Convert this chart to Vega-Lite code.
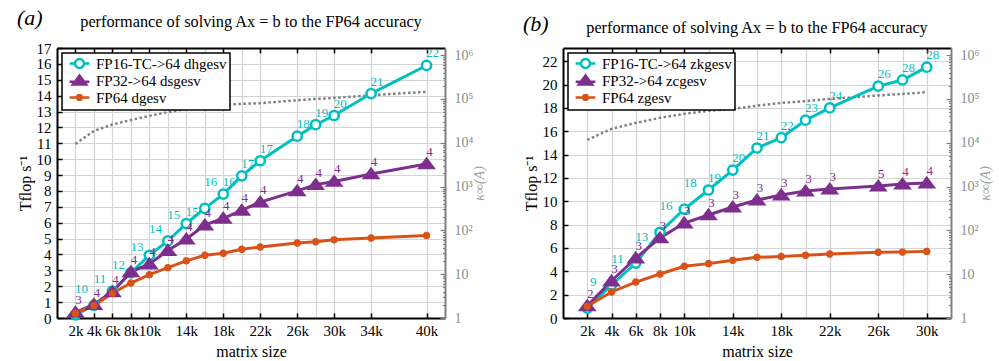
{
  "$schema": "https://vega.github.io/schema/vega-lite/v6.json",
  "padding": {"left": 17, "top": 6, "right": 2, "bottom": 0},
  "config": {
    "font": "Liberation Serif",
    "view": {"stroke": null},
    "text": {"font": "Liberation Serif"},
    "axis": {"labelFont": "Liberation Serif", "titleFont": "Liberation Serif", "labelFontSize": 15, "titleFontSize": 16, "titleFontWeight": "normal", "labelColor": "#000", "titleColor": "#000", "domainColor": "#000", "domainWidth": 2, "tickColor": "#000", "tickWidth": 1.5, "gridColor": "#d4d4d4", "gridWidth": 1.2, "labelOverlap": false, "labelFlush": false},
    "legend": {"labelFont": "Liberation Serif", "labelFontSize": 15, "labelColor": "#000", "strokeColor": "#000", "strokeWidth": 1.5, "fillColor": "#fff", "padding": 3, "symbolStrokeWidth": 2.5, "symbolSize": 80, "symbolOpacity": 1, "rowPadding": -5, "labelOffset": 9, "symbolOffset": 7, "orient": "top-left", "offset": 5, "cornerRadius": 0},
    "title": {"font": "Liberation Serif", "fontSize": 16.3, "fontWeight": "normal", "color": "#000"}
  },
  "datasets": {
    "pa": [
      {"n":2000,"s":"FP16-TC->64 dhgesv","t":0.2,"it":"10"},{"n":4000,"s":"FP16-TC->64 dhgesv","t":0.8,"it":"11"},{"n":6000,"s":"FP16-TC->64 dhgesv","t":1.7,"it":"12"},{"n":8000,"s":"FP16-TC->64 dhgesv","t":2.85,"it":"13"},{"n":10000,"s":"FP16-TC->64 dhgesv","t":3.95,"it":"14"},{"n":12000,"s":"FP16-TC->64 dhgesv","t":4.85,"it":"15"},{"n":14000,"s":"FP16-TC->64 dhgesv","t":5.95,"it":"15"},{"n":16000,"s":"FP16-TC->64 dhgesv","t":6.9,"it":"16"},{"n":18000,"s":"FP16-TC->64 dhgesv","t":7.8,"it":"16"},{"n":20000,"s":"FP16-TC->64 dhgesv","t":8.95,"it":"17"},{"n":22000,"s":"FP16-TC->64 dhgesv","t":9.9,"it":"17"},{"n":26000,"s":"FP16-TC->64 dhgesv","t":11.45,"it":"18"},{"n":28000,"s":"FP16-TC->64 dhgesv","t":12.17,"it":"19"},{"n":30000,"s":"FP16-TC->64 dhgesv","t":12.75,"it":"20"},{"n":34000,"s":"FP16-TC->64 dhgesv","t":14.13,"it":"21"},{"n":40000,"s":"FP16-TC->64 dhgesv","t":15.9,"it":"22"},
      {"n":2000,"s":"FP32->64 dsgesv","t":0.35,"it":"3"},{"n":4000,"s":"FP32->64 dsgesv","t":0.85,"it":"4"},{"n":6000,"s":"FP32->64 dsgesv","t":1.65,"it":"4"},{"n":8000,"s":"FP32->64 dsgesv","t":2.9,"it":"4"},{"n":10000,"s":"FP32->64 dsgesv","t":3.4,"it":"4"},{"n":12000,"s":"FP32->64 dsgesv","t":4.25,"it":"4"},{"n":14000,"s":"FP32->64 dsgesv","t":4.97,"it":"4"},{"n":16000,"s":"FP32->64 dsgesv","t":5.85,"it":"4"},{"n":18000,"s":"FP32->64 dsgesv","t":6.28,"it":"4"},{"n":20000,"s":"FP32->64 dsgesv","t":6.78,"it":"4"},{"n":22000,"s":"FP32->64 dsgesv","t":7.3,"it":"4"},{"n":26000,"s":"FP32->64 dsgesv","t":8.0,"it":"4"},{"n":28000,"s":"FP32->64 dsgesv","t":8.4,"it":"4"},{"n":30000,"s":"FP32->64 dsgesv","t":8.6,"it":"4"},{"n":34000,"s":"FP32->64 dsgesv","t":9.07,"it":"4"},{"n":40000,"s":"FP32->64 dsgesv","t":9.7,"it":"4"},
      {"n":2000,"s":"FP64 dgesv","t":0.3},{"n":4000,"s":"FP64 dgesv","t":0.78},{"n":6000,"s":"FP64 dgesv","t":1.56},{"n":8000,"s":"FP64 dgesv","t":2.2},{"n":10000,"s":"FP64 dgesv","t":2.73},{"n":12000,"s":"FP64 dgesv","t":3.17},{"n":14000,"s":"FP64 dgesv","t":3.6},{"n":16000,"s":"FP64 dgesv","t":3.95},{"n":18000,"s":"FP64 dgesv","t":4.08},{"n":20000,"s":"FP64 dgesv","t":4.33},{"n":22000,"s":"FP64 dgesv","t":4.47},{"n":26000,"s":"FP64 dgesv","t":4.72},{"n":28000,"s":"FP64 dgesv","t":4.8},{"n":30000,"s":"FP64 dgesv","t":4.92},{"n":34000,"s":"FP64 dgesv","t":5.04},{"n":40000,"s":"FP64 dgesv","t":5.2}
    ],
    "ka": [
      {"n":2000,"kappa":9400},{"n":4000,"kappa":18600},{"n":6000,"kappa":26000},{"n":8000,"kappa":33000},{"n":10000,"kappa":41000},{"n":12000,"kappa":50000},{"n":14000,"kappa":59000},{"n":16000,"kappa":66000},{"n":18000,"kappa":73000},{"n":20000,"kappa":77000},{"n":22000,"kappa":80000},{"n":26000,"kappa":93000},{"n":28000,"kappa":100000},{"n":30000,"kappa":105000},{"n":34000,"kappa":121000},{"n":40000,"kappa":145000}
    ],
    "pb": [
      {"n":2000,"s":"FP16-TC->64 zkgesv","t":0.85,"it":"9"},{"n":4000,"s":"FP16-TC->64 zkgesv","t":2.83,"it":"11"},{"n":6000,"s":"FP16-TC->64 zkgesv","t":4.71,"it":"13"},{"n":8000,"s":"FP16-TC->64 zkgesv","t":7.35,"it":"16"},{"n":10000,"s":"FP16-TC->64 zkgesv","t":9.34,"it":"18"},{"n":12000,"s":"FP16-TC->64 zkgesv","t":10.97,"it":"19"},{"n":14000,"s":"FP16-TC->64 zkgesv","t":12.68,"it":"20"},{"n":16000,"s":"FP16-TC->64 zkgesv","t":14.57,"it":"21"},{"n":18000,"s":"FP16-TC->64 zkgesv","t":15.45,"it":"22"},{"n":20000,"s":"FP16-TC->64 zkgesv","t":16.95,"it":"23"},{"n":22000,"s":"FP16-TC->64 zkgesv","t":18.0,"it":"24"},{"n":26000,"s":"FP16-TC->64 zkgesv","t":19.87,"it":"26"},{"n":28000,"s":"FP16-TC->64 zkgesv","t":20.4,"it":"28"},{"n":30000,"s":"FP16-TC->64 zkgesv","t":21.5,"it":"28"},
      {"n":2000,"s":"FP32->64 zcgesv","t":1.05,"it":"2"},{"n":4000,"s":"FP32->64 zcgesv","t":3.17,"it":"3"},{"n":6000,"s":"FP32->64 zcgesv","t":5.14,"it":"3"},{"n":8000,"s":"FP32->64 zcgesv","t":6.86,"it":"3"},{"n":10000,"s":"FP32->64 zcgesv","t":8.14,"it":"3"},{"n":12000,"s":"FP32->64 zcgesv","t":8.83,"it":"3"},{"n":14000,"s":"FP32->64 zcgesv","t":9.51,"it":"3"},{"n":16000,"s":"FP32->64 zcgesv","t":10.11,"it":"3"},{"n":18000,"s":"FP32->64 zcgesv","t":10.54,"it":"3"},{"n":20000,"s":"FP32->64 zcgesv","t":10.88,"it":"3"},{"n":22000,"s":"FP32->64 zcgesv","t":11.05,"it":"3"},{"n":26000,"s":"FP32->64 zcgesv","t":11.31,"it":"5"},{"n":28000,"s":"FP32->64 zcgesv","t":11.48,"it":"4"},{"n":30000,"s":"FP32->64 zcgesv","t":11.57,"it":"4"},
      {"n":2000,"s":"FP64 zgesv","t":1.0},{"n":4000,"s":"FP64 zgesv","t":2.23},{"n":6000,"s":"FP64 zgesv","t":3.08},{"n":8000,"s":"FP64 zgesv","t":3.77},{"n":10000,"s":"FP64 zgesv","t":4.43},{"n":12000,"s":"FP64 zgesv","t":4.66},{"n":14000,"s":"FP64 zgesv","t":4.94},{"n":16000,"s":"FP64 zgesv","t":5.2},{"n":18000,"s":"FP64 zgesv","t":5.28},{"n":20000,"s":"FP64 zgesv","t":5.37},{"n":22000,"s":"FP64 zgesv","t":5.48},{"n":26000,"s":"FP64 zgesv","t":5.63},{"n":28000,"s":"FP64 zgesv","t":5.65},{"n":30000,"s":"FP64 zgesv","t":5.71}
    ],
    "kb": [
      {"n":2000,"kappa":11600},{"n":4000,"kappa":20700},{"n":6000,"kappa":28300},{"n":8000,"kappa":37000},{"n":10000,"kappa":45600},{"n":12000,"kappa":53400},{"n":14000,"kappa":59000},{"n":16000,"kappa":70000},{"n":18000,"kappa":81000},{"n":20000,"kappa":89000},{"n":22000,"kappa":100000},{"n":26000,"kappa":120000},{"n":28000,"kappa":130000},{"n":30000,"kappa":142000}
    ]
  },
  "resolve": {"scale": {"stroke": "independent", "fill": "independent", "shape": "independent"}, "legend": {"stroke": "independent", "fill": "independent", "shape": "independent"}},
  "hconcat": [
    {
      "title": {"text": "(a)", "anchor": "start", "fontSize": 22, "fontStyle": "italic", "offset": -16},
      "vconcat": [{
        "width": 388, "height": 270,
        "title": {"text": "performance of solving Ax = b to the FP64 accuracy", "frame": "group", "offset": 11},
        "layer": [
          {
            "data": {"name": "ka"},
            "mark": {"type": "line", "stroke": "#808080", "strokeWidth": 2.5, "strokeDash": [2.5, 2.5]},
            "encoding": {
              "x": {"field": "n", "type": "quantitative", "scale": {"domain": [0, 42000], "nice": false}, "axis": null},
              "y": {"field": "kappa", "type": "quantitative", "scale": {"type": "log", "domain": [1, 1450000], "nice": false},
                "axis": {"orient": "right", "values": [1,2,3,4,5,6,7,8,9,10,20,30,40,50,60,70,80,90,100,200,300,400,500,600,700,800,900,1000,2000,3000,4000,5000,6000,7000,8000,9000,10000,20000,30000,40000,50000,60000,70000,80000,90000,100000,200000,300000,400000,500000,600000,700000,800000,900000,1000000],
                  "labelExpr": "datum.value==1?'1':datum.value==10?'10':datum.value==100?'10²':datum.value==1000?'10³':datum.value==10000?'10⁴':datum.value==100000?'10⁵':datum.value==1000000?'10⁶':''",
                  "tickSize": {"condition": {"test": "indexof([1,10,100,1000,10000,100000,1000000], datum.value) >= 0", "value": -5}, "value": -2.5},
                  "tickColor": "#808080", "tickWidth": 1.2, "domainColor": "#808080", "domainWidth": 2, "labelFont": "Liberation Serif", "labelColor": "#8c8c8c", "labelFontSize": 14, "labelPadding": 14, "grid": false,
                  "title": "κ∞(A)", "titleFont": "Liberation Serif", "titleColor": "#a0a0a0", "titleFontStyle": "italic", "titleFontSize": 14, "titleAngle": 270, "titleBaseline": "top", "titlePadding": 0}}
            }
          },
          {
            "data": {"name": "pa"},
            "encoding": {"y": {"field": "t", "type": "quantitative", "scale": {"domain": [0, 17], "nice": false},
              "axis": {"orient": "left", "values": [0,1,2,3,4,5,6,7,8,9,10,11,12,13,14,15,16,17], "tickSize": -5, "labelPadding": 11, "labelFont": "Liberation Serif", "titleFont": "Liberation Serif", "grid": true, "title": "Tflop s⁻¹", "titlePadding": 3}}},
            "layer": [
              {
                "mark": {"type": "line", "strokeWidth": 3},
                "encoding": {
                  "x": {"field": "n", "type": "quantitative", "scale": {"domain": [0, 42000], "nice": false},
                    "axis": {"orient": "bottom", "values": [2000,4000,6000,8000,10000,12000,14000,16000,18000,20000,22000,26000,28000,30000,34000,40000],
                      "labelExpr": "indexof([2000,4000,6000,8000,10000,14000,18000,22000,26000,30000,34000,40000], datum.value) >= 0 ? (datum.value/1000) + 'k' : ''",
                      "tickSize": {"condition": {"test": "indexof([2000,4000,6000,8000,10000,14000,18000,22000,26000,30000,34000,40000], datum.value) < 0", "value": 0}, "value": -5},
                      "labelFont": "Liberation Serif", "titleFont": "Liberation Serif",
                      "grid": true, "labelPadding": 10, "title": "matrix size", "titlePadding": 0}},
                  "stroke": {"field": "s", "type": "nominal", "scale": {"domain": ["FP16-TC->64 dhgesv", "FP32->64 dsgesv", "FP64 dgesv"], "range": ["#00BFBF", "#7E2F8E", "#D95319"]}, "legend": {"title": null}}
                }
              },
              {
                "mark": {"type": "point", "filled": true, "size": 80, "strokeWidth": 2.5, "opacity": 0},
                "encoding": {
                  "x": {"field": "n", "type": "quantitative", "scale": {"domain": [0, 42000], "nice": false}, "axis": null},
                  "shape": {"field": "s", "type": "nominal", "scale": {"domain": ["FP16-TC->64 dhgesv", "FP32->64 dsgesv", "FP64 dgesv"], "range": ["M-2.2,0L-1,0M1,0L2.2,0M1,0A1,1,0,1,1,-1,0A1,1,0,1,1,1,0Z", "M-2.2,0.3L2.2,0.3M0,-1.1L1.5,0.9L-1.5,0.9Z", "M-2.2,0L2.2,0M0,-0.8L0,0.8M-0.57,-0.57L0.57,0.57M-0.57,0.57L0.57,-0.57"]}, "legend": {"title": null}},
                  "fill": {"field": "s", "type": "nominal", "scale": {"domain": ["FP16-TC->64 dhgesv", "FP32->64 dsgesv", "FP64 dgesv"], "range": ["#ffffff", "#7E2F8E", "#D95319"]}, "legend": {"title": null}},
                  "stroke": {"field": "s", "type": "nominal", "scale": {"domain": ["FP16-TC->64 dhgesv", "FP32->64 dsgesv", "FP64 dgesv"], "range": ["#00BFBF", "#7E2F8E", "#D95319"]}, "legend": {"title": null}}
                }
              },
              {
                "transform": [{"filter": {"field": "s", "equal": "FP16-TC->64 dhgesv"}}],
                "mark": {"type": "point", "shape": "M1,0A1,1,0,1,1,-1,0A1,1,0,1,1,1,0Z", "size": 85, "strokeWidth": 2.5, "opacity": 1, "fill": "#ffffff", "stroke": "#00BFBF"},
                "encoding": {"x": {"field": "n", "type": "quantitative", "scale": {"domain": [0, 42000], "nice": false}, "axis": null}}
              },
              {
                "transform": [{"filter": {"field": "s", "equal": "FP32->64 dsgesv"}}],
                "mark": {"type": "point", "shape": "M0,-1.1L1.5,0.9L-1.5,0.9Z", "size": 85, "strokeWidth": 2.5, "opacity": 1, "fill": "#7E2F8E", "stroke": "#7E2F8E"},
                "encoding": {"x": {"field": "n", "type": "quantitative", "scale": {"domain": [0, 42000], "nice": false}, "axis": null}}
              },
              {
                "transform": [{"filter": {"field": "s", "equal": "FP64 dgesv"}}],
                "mark": {"type": "point", "shape": "M-0.8,0L0.8,0M0,-0.8L0,0.8M-0.57,-0.57L0.57,0.57M-0.57,0.57L0.57,-0.57", "size": 85, "strokeWidth": 2.5, "opacity": 1, "fill": "#D95319", "stroke": "#D95319"},
                "encoding": {"x": {"field": "n", "type": "quantitative", "scale": {"domain": [0, 42000], "nice": false}, "axis": null}}
              },
              {
                "transform": [{"filter": {"field": "s", "equal": "FP16-TC->64 dhgesv"}}, {"filter": {"field": "n", "oneOf": [2000,4000,6000,8000,10000,12000,16000]}}],
                "mark": {"type": "text", "font": "Liberation Serif", "color": "#00BFBF", "fontSize": 13, "dx": 6, "dy": -26},
                "encoding": {"x": {"field": "n", "type": "quantitative", "scale": {"domain": [0, 42000], "nice": false}, "axis": null}, "text": {"field": "it"}}
              },
              {
                "transform": [{"filter": {"field": "s", "equal": "FP16-TC->64 dhgesv"}}, {"filter": {"field": "n", "oneOf": [14000,18000,20000,22000,26000,28000,30000,34000,40000]}}],
                "mark": {"type": "text", "font": "Liberation Serif", "color": "#00BFBF", "fontSize": 13, "dx": 6, "dy": -12},
                "encoding": {"x": {"field": "n", "type": "quantitative", "scale": {"domain": [0, 42000], "nice": false}, "axis": null}, "text": {"field": "it"}}
              },
              {
                "transform": [{"filter": {"field": "s", "equal": "FP32->64 dsgesv"}}],
                "mark": {"type": "text", "font": "Liberation Serif", "color": "#7E2F8E", "fontSize": 13, "dx": 3, "dy": -12},
                "encoding": {"x": {"field": "n", "type": "quantitative", "scale": {"domain": [0, 42000], "nice": false},
                  "axis": {"orient": "top", "values": [2000,4000,6000,8000,10000,14000,18000,22000,26000,30000,34000,40000], "labels": false, "tickSize": -5, "grid": false, "title": null}}, "text": {"field": "it"}}
              }
            ],
            "resolve": {"axis": {"x": "independent"}}
          }
        ],
        "resolve": {"scale": {"y": "independent"}, "axis": {"x": "independent", "y": "independent"}}
      }]
    },
    {
      "title": {"text": "(b)", "anchor": "start", "fontSize": 22, "fontStyle": "italic", "offset": -16},
      "vconcat": [{
        "width": 388, "height": 270,
        "title": {"text": "performance of solving Ax = b to the FP64 accuracy", "frame": "group", "offset": 11},
        "layer": [
          {
            "data": {"name": "kb"},
            "mark": {"type": "line", "stroke": "#808080", "strokeWidth": 2.5, "strokeDash": [2.5, 2.5]},
            "encoding": {
              "x": {"field": "n", "type": "quantitative", "scale": {"domain": [0, 32000], "nice": false}, "axis": null},
              "y": {"field": "kappa", "type": "quantitative", "scale": {"type": "log", "domain": [1, 1450000], "nice": false},
                "axis": {"orient": "right", "values": [1,2,3,4,5,6,7,8,9,10,20,30,40,50,60,70,80,90,100,200,300,400,500,600,700,800,900,1000,2000,3000,4000,5000,6000,7000,8000,9000,10000,20000,30000,40000,50000,60000,70000,80000,90000,100000,200000,300000,400000,500000,600000,700000,800000,900000,1000000],
                  "labelExpr": "datum.value==1?'1':datum.value==10?'10':datum.value==100?'10²':datum.value==1000?'10³':datum.value==10000?'10⁴':datum.value==100000?'10⁵':datum.value==1000000?'10⁶':''",
                  "tickSize": {"condition": {"test": "indexof([1,10,100,1000,10000,100000,1000000], datum.value) >= 0", "value": -5}, "value": -2.5},
                  "tickColor": "#808080", "tickWidth": 1.2, "domainColor": "#808080", "domainWidth": 2, "labelFont": "Liberation Serif", "labelColor": "#8c8c8c", "labelFontSize": 14, "labelPadding": 14, "grid": false,
                  "title": "κ∞(A)", "titleFont": "Liberation Serif", "titleColor": "#a0a0a0", "titleFontStyle": "italic", "titleFontSize": 14, "titleAngle": 270, "titleBaseline": "top", "titlePadding": 0}}
            }
          },
          {
            "data": {"name": "pb"},
            "encoding": {"y": {"field": "t", "type": "quantitative", "scale": {"domain": [0, 23.14], "nice": false},
              "axis": {"orient": "left", "values": [0,2,4,6,8,10,12,14,16,18,20,22], "tickSize": -5, "labelPadding": 11, "labelFont": "Liberation Serif", "titleFont": "Liberation Serif", "grid": true, "title": "Tflop s⁻¹", "titlePadding": 3}}},
            "layer": [
              {
                "mark": {"type": "line", "strokeWidth": 3},
                "encoding": {
                  "x": {"field": "n", "type": "quantitative", "scale": {"domain": [0, 32000], "nice": false},
                    "axis": {"orient": "bottom", "values": [2000,4000,6000,8000,10000,12000,14000,16000,18000,20000,22000,26000,28000,30000],
                      "labelExpr": "indexof([2000,4000,6000,8000,10000,14000,18000,22000,26000,30000], datum.value) >= 0 ? (datum.value/1000) + 'k' : ''",
                      "tickSize": {"condition": {"test": "indexof([2000,4000,6000,8000,10000,14000,18000,22000,26000,30000], datum.value) < 0", "value": 0}, "value": -5},
                      "labelFont": "Liberation Serif", "titleFont": "Liberation Serif",
                      "grid": true, "labelPadding": 10, "title": "matrix size", "titlePadding": 0}},
                  "stroke": {"field": "s", "type": "nominal", "scale": {"domain": ["FP16-TC->64 zkgesv", "FP32->64 zcgesv", "FP64 zgesv"], "range": ["#00BFBF", "#7E2F8E", "#D95319"]}, "legend": {"title": null}}
                }
              },
              {
                "mark": {"type": "point", "filled": true, "size": 80, "strokeWidth": 2.5, "opacity": 0},
                "encoding": {
                  "x": {"field": "n", "type": "quantitative", "scale": {"domain": [0, 32000], "nice": false}, "axis": null},
                  "shape": {"field": "s", "type": "nominal", "scale": {"domain": ["FP16-TC->64 zkgesv", "FP32->64 zcgesv", "FP64 zgesv"], "range": ["M-2.2,0L-1,0M1,0L2.2,0M1,0A1,1,0,1,1,-1,0A1,1,0,1,1,1,0Z", "M-2.2,0.3L2.2,0.3M0,-1.1L1.5,0.9L-1.5,0.9Z", "M-2.2,0L2.2,0M0,-0.8L0,0.8M-0.57,-0.57L0.57,0.57M-0.57,0.57L0.57,-0.57"]}, "legend": {"title": null}},
                  "fill": {"field": "s", "type": "nominal", "scale": {"domain": ["FP16-TC->64 zkgesv", "FP32->64 zcgesv", "FP64 zgesv"], "range": ["#ffffff", "#7E2F8E", "#D95319"]}, "legend": {"title": null}},
                  "stroke": {"field": "s", "type": "nominal", "scale": {"domain": ["FP16-TC->64 zkgesv", "FP32->64 zcgesv", "FP64 zgesv"], "range": ["#00BFBF", "#7E2F8E", "#D95319"]}, "legend": {"title": null}}
                }
              },
              {
                "transform": [{"filter": {"field": "s", "equal": "FP16-TC->64 zkgesv"}}],
                "mark": {"type": "point", "shape": "M1,0A1,1,0,1,1,-1,0A1,1,0,1,1,1,0Z", "size": 85, "strokeWidth": 2.5, "opacity": 1, "fill": "#ffffff", "stroke": "#00BFBF"},
                "encoding": {"x": {"field": "n", "type": "quantitative", "scale": {"domain": [0, 32000], "nice": false}, "axis": null}}
              },
              {
                "transform": [{"filter": {"field": "s", "equal": "FP32->64 zcgesv"}}],
                "mark": {"type": "point", "shape": "M0,-1.1L1.5,0.9L-1.5,0.9Z", "size": 85, "strokeWidth": 2.5, "opacity": 1, "fill": "#7E2F8E", "stroke": "#7E2F8E"},
                "encoding": {"x": {"field": "n", "type": "quantitative", "scale": {"domain": [0, 32000], "nice": false}, "axis": null}}
              },
              {
                "transform": [{"filter": {"field": "s", "equal": "FP64 zgesv"}}],
                "mark": {"type": "point", "shape": "M-0.8,0L0.8,0M0,-0.8L0,0.8M-0.57,-0.57L0.57,0.57M-0.57,0.57L0.57,-0.57", "size": 85, "strokeWidth": 2.5, "opacity": 1, "fill": "#D95319", "stroke": "#D95319"},
                "encoding": {"x": {"field": "n", "type": "quantitative", "scale": {"domain": [0, 32000], "nice": false}, "axis": null}}
              },
              {
                "transform": [{"filter": {"field": "s", "equal": "FP16-TC->64 zkgesv"}}, {"filter": {"field": "n", "oneOf": [2000,4000,6000,8000,10000]}}],
                "mark": {"type": "text", "font": "Liberation Serif", "color": "#00BFBF", "fontSize": 13, "dx": 6, "dy": -26},
                "encoding": {"x": {"field": "n", "type": "quantitative", "scale": {"domain": [0, 32000], "nice": false}, "axis": null}, "text": {"field": "it"}}
              },
              {
                "transform": [{"filter": {"field": "s", "equal": "FP16-TC->64 zkgesv"}}, {"filter": {"field": "n", "oneOf": [12000,14000,16000,18000,20000,22000,26000,28000,30000]}}],
                "mark": {"type": "text", "font": "Liberation Serif", "color": "#00BFBF", "fontSize": 13, "dx": 6, "dy": -12},
                "encoding": {"x": {"field": "n", "type": "quantitative", "scale": {"domain": [0, 32000], "nice": false}, "axis": null}, "text": {"field": "it"}}
              },
              {
                "transform": [{"filter": {"field": "s", "equal": "FP32->64 zcgesv"}}],
                "mark": {"type": "text", "font": "Liberation Serif", "color": "#7E2F8E", "fontSize": 13, "dx": 3, "dy": -12},
                "encoding": {"x": {"field": "n", "type": "quantitative", "scale": {"domain": [0, 32000], "nice": false},
                  "axis": {"orient": "top", "values": [2000,4000,6000,8000,10000,14000,18000,22000,26000,30000], "labels": false, "tickSize": -5, "grid": false, "title": null}}, "text": {"field": "it"}}
              }
            ],
            "resolve": {"axis": {"x": "independent"}}
          }
        ],
        "resolve": {"scale": {"y": "independent"}, "axis": {"x": "independent", "y": "independent"}}
      }]
    }
  ],
  "spacing": 36
}
